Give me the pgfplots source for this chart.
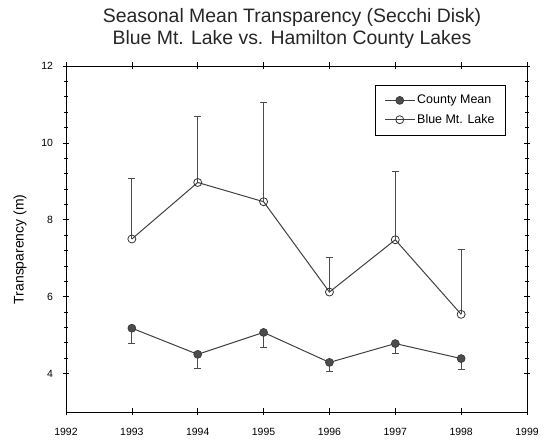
\documentclass[border=0pt]{standalone}
\usepackage{fontspec}
\setmainfont{Liberation Sans}
\usepackage{pgfplots}
\pgfplotsset{compat=1.18}
\definecolor{lineg}{gray}{0.25}
\begin{document}
\begin{tikzpicture}[x=1bp,y=1bp]
\useasboundingbox (0,0) rectangle (545,445);
\node[font=\fontsize{19.5}{21}\selectfont, anchor=base, text=black!85] at (292,422) {Seasonal Mean Transparency (Secchi Disk)};
\node[font=\fontsize{19.5}{21}\selectfont, anchor=base, text=black!85] at (292,400) {Blue Mt. Lake vs. Hamilton County Lakes};
\begin{axis}[
  at={(66bp,33bp)}, anchor=south west,
  scale only axis, width=461bp, height=346bp,
  xmin=1992, xmax=1999, ymin=3, ymax=12,
  xtick={1992,1993,...,1999},
  ytick={4,6,8,10,12},
  minor y tick num=4,
  tick align=center,
  major tick length=7bp,
  minor tick length=4bp,
  axis line style={black, line width=0.9pt},
  every tick/.style={black, line width=0.6pt},
  /pgf/number format/assume math mode=true,
  x tick label style={/pgf/number format/1000 sep={}, font=\fontsize{10.5}{12}\selectfont, yshift=-9bp},
  y tick label style={font=\fontsize{10.5}{12}\selectfont, xshift=-6bp},
  ylabel={Transparency (m)},
  ylabel style={at={(axis description cs:-0.1,0.47)}, anchor=center, font=\fontsize{14}{16}\selectfont},
  legend style={at={(0.954,0.945)}, anchor=north east, font=\fontsize{12.5}{14}\selectfont, draw=black, line width=0.6pt, inner xsep=9pt, inner ysep=8pt, row sep=5pt},
  legend cell align=left,
  legend image code/.code={\draw[mark repeat=2,mark phase=2,#1] plot coordinates {(0bp,0bp) (15bp,0bp) (30bp,0bp)};},
]
\addplot[lineg, line width=1pt, mark=*, mark size=4bp, mark options={fill=black!70, draw=black!80, line width=0.6pt},
  error bars/.cd, y dir=minus, y explicit, error bar style={black!70, line width=0.8pt}, error mark options={rotate=90, mark size=3.5bp, black!70, line width=0.8pt}]
  coordinates {
  (1993,5.18) -= (0,0.40)
  (1994,4.50) -= (0,0.37)
  (1995,5.07) -= (0,0.39)
  (1996,4.29) -= (0,0.24)
  (1997,4.78) -= (0,0.26)
  (1998,4.39) -= (0,0.29)
  };
\addlegendentry{County Mean}
\addplot[lineg, line width=1pt, mark=o, mark size=4bp, mark options={fill=white, draw=black!80, line width=0.8pt},
  error bars/.cd, y dir=plus, y explicit, error bar style={black!70, line width=0.8pt}, error mark options={rotate=90, mark size=3.5bp, black!70, line width=0.8pt}]
  coordinates {
  (1993,7.50) += (0,1.57)
  (1994,8.97) += (0,1.72)
  (1995,8.47) += (0,2.59)
  (1996,6.12) += (0,0.91)
  (1997,7.48) += (0,1.77)
  (1998,5.54) += (0,1.70)
  };
\addlegendentry{Blue Mt. Lake}
\end{axis}
\end{tikzpicture}
\end{document}
